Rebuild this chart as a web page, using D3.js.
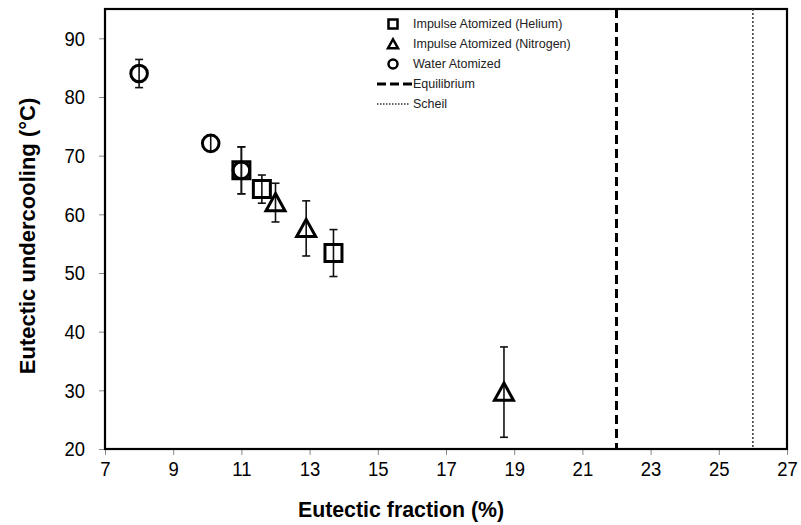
<!DOCTYPE html>
<html>
<head>
<meta charset="utf-8">
<script src="https://cdn.jsdelivr.net/npm/d3@7/dist/d3.min.js"></script>
<style>
  body { margin: 0; background: #fff; }
  svg { display: block; font-family: "Liberation Sans", Arial, sans-serif; }
</style>
</head>
<body>
<svg id="chart" width="801" height="525"></svg>
<script>
// Eutectic fraction (%) vs eutectic undercooling (°C), with ± error
const heliumX = [11.0, 11.6, 13.7];
const heliumY = [67.5, 64.3, 53.4];
const heliumErr = [4.0, 2.4, 4.0];

const nitrogenX = [12.0, 12.9, 18.7];
const nitrogenY = [62.0, 57.6, 29.7];
const nitrogenErr = [3.3, 4.7, 7.7];

const waterX = [8.0, 10.1, 11.0];
const waterY = [84.0, 72.1, 67.5];
const waterErr = [2.4, 1.4, 4.0];

const equilibriumX = 22;
const scheilX = 26;

const xTicks = [7, 9, 11, 13, 15, 17, 19, 21, 23, 25, 27];
const yTicks = [20, 30, 40, 50, 60, 70, 80, 90];

const legendLabels = ["Impulse Atomized (Helium)", "Impulse Atomized (Nitrogen)", "Water Atomized", "Equilibrium", "Scheil"];

const svg = d3.select("#chart");
const m = { left: 105, right: 14, top: 9, bottom: 76 };
const W = 801, H = 525;

const x = d3.scaleLinear().domain([7, 27]).range([m.left, W - m.right]);
const y = d3.scaleLinear().domain([20, 95]).range([H - m.bottom, m.top]);

// narrow-looking numerals: squeeze each label horizontally about its anchor
function squeeze(sel, k) {
  sel.each(function () {
    const t = d3.select(this);
    const bx = +t.attr("x") || 0;
    t.attr("transform", `translate(${bx},0) scale(${k},1) translate(${-bx},0)`);
  });
}

// x axis
const xAxis = svg.append("g")
  .attr("transform", `translate(0,${y(20)})`)
  .call(d3.axisBottom(x).tickValues(xTicks).tickSize(6).tickPadding(6).tickFormat(d3.format("d")));
xAxis.select(".domain").remove();
xAxis.selectAll("line").attr("stroke", "#888").attr("stroke-width", 1);
xAxis.selectAll("text").attr("font-size", 21).attr("fill", "#000").call(squeeze, 0.88);

// y axis
const yAxis = svg.append("g")
  .attr("transform", `translate(${x(7)},0)`)
  .call(d3.axisLeft(y).tickValues(yTicks).tickSize(6).tickPadding(14).tickFormat(d3.format("d")));
yAxis.select(".domain").remove();
yAxis.selectAll("line").attr("stroke", "#888").attr("stroke-width", 1);
yAxis.selectAll("text").attr("font-size", 21).attr("fill", "#000").call(squeeze, 0.88);

// plot frame
svg.append("rect")
  .attr("x", x(7)).attr("y", y(95))
  .attr("width", x(27) - x(7)).attr("height", y(20) - y(95))
  .attr("fill", "none").attr("stroke", "#000").attr("stroke-width", 2.2);

// reference lines
svg.append("line")
  .attr("x1", x(equilibriumX)).attr("x2", x(equilibriumX))
  .attr("y1", y(95)).attr("y2", y(20))
  .attr("stroke", "#000").attr("stroke-width", 3).attr("stroke-dasharray", "9,5");
svg.append("line")
  .attr("x1", x(scheilX)).attr("x2", x(scheilX))
  .attr("y1", y(95)).attr("y2", y(20))
  .attr("stroke", "#333").attr("stroke-width", 1.5).attr("stroke-dasharray", "2,2");

// error bars
function errorBars(xs, ys, es) {
  const g = svg.append("g").attr("stroke", "#111").attr("stroke-width", 1.6);
  xs.forEach((xv, i) => {
    const cx = x(xv), top = y(ys[i] + es[i]), bot = y(ys[i] - es[i]);
    g.append("line").attr("x1", cx).attr("x2", cx).attr("y1", top).attr("y2", bot);
    g.append("line").attr("x1", cx - 4).attr("x2", cx + 4).attr("y1", top).attr("y2", top);
    g.append("line").attr("x1", cx - 4).attr("x2", cx + 4).attr("y1", bot).attr("y2", bot);
  });
}
errorBars(waterX, waterY, waterErr);
errorBars(heliumX, heliumY, heliumErr);
errorBars(nitrogenX, nitrogenY, nitrogenErr);

// markers
function squarePath(s) { const h = s / 2; return `M${-h},${-h}H${h}V${h}H${-h}Z`; }
function trianglePath(s) { const h = s / 2; return `M0,${-h * 0.95}L${h},${h * 0.85}L${-h},${h * 0.85}Z`; }

function markers(xs, ys, draw) {
  xs.forEach((xv, i) => draw(svg.append("g").attr("transform", `translate(${x(xv)},${y(ys[i])})`)));
}
markers(waterX, waterY, g => g.append("circle").attr("r", 8.3)
  .attr("fill", "none").attr("stroke", "#000").attr("stroke-width", 3));
markers(heliumX, heliumY, g => g.append("path").attr("d", squarePath(17))
  .attr("fill", "none").attr("stroke", "#000").attr("stroke-width", 3));
markers(nitrogenX, nitrogenY, g => g.append("path").attr("d", trianglePath(19))
  .attr("fill", "none").attr("stroke", "#000").attr("stroke-width", 3).attr("stroke-linejoin", "miter"));

// legend
const lg = svg.append("g").attr("font-size", 12.5).attr("fill", "#222");
const rowY = [24, 44, 64, 84, 104];
const mx = 393, tx = 413;
lg.append("path").attr("transform", `translate(${mx},${rowY[0]})`).attr("d", squarePath(9))
  .attr("fill", "none").attr("stroke", "#000").attr("stroke-width", 2.5);
lg.append("path").attr("transform", `translate(${mx},${rowY[1]})`).attr("d", trianglePath(10))
  .attr("fill", "none").attr("stroke", "#000").attr("stroke-width", 2.5);
lg.append("circle").attr("cx", mx).attr("cy", rowY[2]).attr("r", 4.5)
  .attr("fill", "none").attr("stroke", "#000").attr("stroke-width", 2.5);
lg.append("line").attr("x1", 377).attr("x2", 412).attr("y1", rowY[3]).attr("y2", rowY[3])
  .attr("stroke", "#000").attr("stroke-width", 3).attr("stroke-dasharray", "9,4");
lg.append("line").attr("x1", 377).attr("x2", 410).attr("y1", rowY[4]).attr("y2", rowY[4])
  .attr("stroke", "#333").attr("stroke-width", 1.3).attr("stroke-dasharray", "1.5,1.5");
legendLabels.forEach((t, i) => {
  lg.append("text").attr("x", tx).attr("y", rowY[i]).attr("dy", "0.35em").text(t);
});

// axis titles
svg.append("text")
  .attr("x", 401).attr("y", 509)
  .attr("text-anchor", "middle").attr("dy", "0.35em")
  .attr("font-size", 22).attr("font-weight", "bold")
  .text("Eutectic fraction (%)")
  .call(squeeze, 0.97);
svg.append("text")
  .attr("transform", `translate(27,236) rotate(-90)`)
  .attr("text-anchor", "middle").attr("dy", "0.35em")
  .attr("font-size", 22).attr("font-weight", "bold")
  .text("Eutectic undercooling (°C)");
</script>
</body>
</html>
